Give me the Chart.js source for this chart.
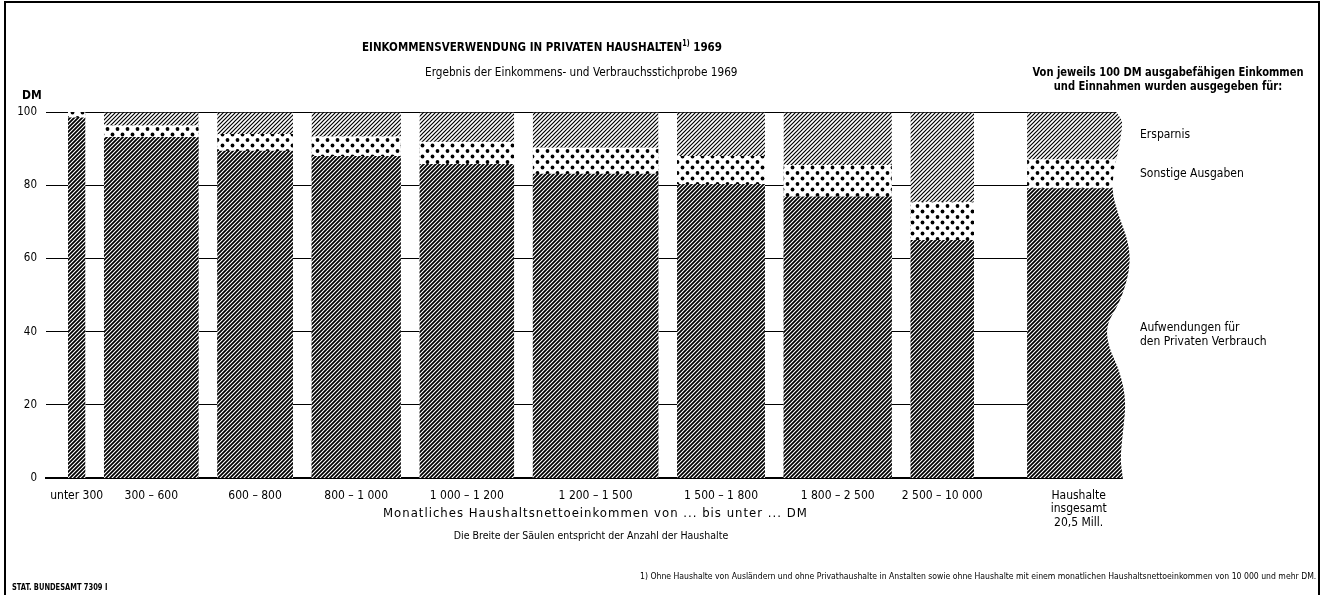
<!DOCTYPE html>
<html>
<head>
<meta charset="utf-8">
<script src="https://cdn.jsdelivr.net/npm/chart.js@4/dist/chart.umd.min.js"></script>
<style>
  body { margin: 0; background: #fff; }
  #wrap { position: relative; width: 1324px; height: 595px; overflow: hidden;
          font-family: 'Liberation Sans Narrow', 'DejaVu Sans Condensed', sans-serif; color: #000; }
  #frame { position: absolute; left: 4px; top: 1px; width: 1312px; height: 620px;
           border-left: 2px solid #000; border-top: 2px solid #000; border-right: 2px solid #000; }
  canvas { position: absolute; left: 0; top: 0; }
  .t { position: absolute; white-space: nowrap; line-height: 1; transform-origin: left top; }
  .c { transform-origin: center top; text-align: center; }
</style>
</head>
<body>
<div id="wrap">
  <div id="frame"></div>
  <canvas id="myChart" width="1324" height="595"></canvas>
  <div class="t" style="left:362px;top:40px;font-size:13px;font-weight:bold;transform:scaleX(0.885);">EINKOMMENSVERWENDUNG IN PRIVATEN HAUSHALTEN<sup style="font-size:8px">1)</sup> 1969</div>
  <div class="t" style="left:425px;top:66px;font-size:12px;transform:scaleX(0.975);">Ergebnis der Einkommens- und Verbrauchsstichprobe 1969</div>
  <div class="t c" style="left:1008px;top:65px;width:320px;font-size:12.5px;font-weight:bold;line-height:14px;transform:scaleX(0.885);">Von jeweils 100 DM ausgabefähigen Einkommen<br>und Einnahmen wurden ausgegeben für:</div>
  <div class="t" style="left:22px;top:89px;font-size:12px;font-weight:bold;">DM</div>
  <div class="t" style="left:1140px;top:128px;font-size:12px;">Ersparnis</div>
  <div class="t" style="left:1140px;top:167px;font-size:12px;">Sonstige Ausgaben</div>
  <div class="t" style="left:1140px;top:320px;font-size:12px;line-height:14px;">Aufwendungen für<br>den Privaten Verbrauch</div>
  <div class="t" style="left:383px;top:506px;font-size:13px;letter-spacing:1.0px;">Monatliches Haushaltsnettoeinkommen von ... bis unter ... DM</div>
  <div class="t c" style="left:441px;top:530px;width:300px;font-size:10.5px;">Die Breite der Säulen entspricht der Anzahl der Haushalte</div>
  <div class="t" style="left:640px;top:571px;font-size:9.5px;transform:scaleX(0.905);">1) Ohne Haushalte von Ausländern und ohne Privathaushalte in Anstalten sowie ohne Haushalte mit einem monatlichen Haushaltsnettoeinkommen von 10 000 und mehr DM.</div>
  <div class="t" style="left:12px;top:583px;font-size:9px;font-weight:bold;transform:scaleX(0.83);">STAT. BUNDESAMT 7309 I</div>
</div>
<script>
// income groups (monthly net household income, DM)
const groups = ['unter 300', '300 – 600', '600 – 800', '800 – 1 000', '1 000 – 1 200',
                '1 200 – 1 500', '1 500 – 1 800', '1 800 – 2 500', '2 500 – 10 000'];
// share of households in each group (%), gives the bar width
const households = [2.3, 12.5, 10.0, 11.8, 12.5, 16.6, 11.6, 14.3, 8.4];
// use of 100 DM income per group
const consumption   = [98.5, 93.2, 89.4, 88.0, 85.8, 83.1, 80.3, 76.9, 65.0];
const otherSpending = [1.5, 3.2, 4.6, 5.4, 6.1, 7.2, 7.7, 8.6, 10.5];
const savings       = [0.0, 3.6, 6.0, 6.6, 8.1, 9.7, 12.0, 14.5, 24.5];
// all households: consumption, other, savings
const totalShares = [79.2, 7.9, 12.9];
const totalLabel = ['Haushalte', 'insgesamt', '20,5 Mill.'];
const yTicks = [0, 20, 40, 60, 80, 100];

const FONT = "'Liberation Sans Narrow', 'DejaVu Sans Condensed', sans-serif";

// horizontal layout in household-% units
const leadGap = 2.9, gap = 2.44, totalGap = 7.0, totalWidth = 14.1;
let pos = leadGap;
const spans = households.map(w => { const s = [pos, pos + w]; pos += w + gap; return s; });
const totalStart = spans[spans.length - 1][1] + totalGap;
const xMax = totalStart + totalWidth;
spans.push([totalStart, xMax]);
const centers = spans.map((s, i) => i < households.length ? (s[0] + s[1]) / 2 : s[0] + 6.8);
const xLabels = [...groups, totalLabel];

const consTop = [...consumption, totalShares[0]];
const otherTop = [...consumption.map((c, i) => c + otherSpending[i]), totalShares[0] + totalShares[1]];
const savTop = [...consumption.map((c, i) => c + otherSpending[i] + savings[i]),
                totalShares[0] + totalShares[1] + totalShares[2]];

function steps(tops) {
  const pts = [];
  tops.forEach((v, i) => {
    pts.push({ x: spans[i][0], y: v }, { x: spans[i][1], y: v });
    if (i < tops.length - 1) pts.push({ x: (spans[i][1] + spans[i + 1][0]) / 2, y: null });
  });
  return pts;
}

function hatch(lw) {
  const c = document.createElement('canvas');
  c.width = 4; c.height = 4;
  const g = c.getContext('2d');
  g.fillStyle = '#fff'; g.fillRect(0, 0, 4, 4);
  g.strokeStyle = '#000'; g.lineWidth = lw;
  g.beginPath();
  g.moveTo(-1, 5); g.lineTo(5, -1);
  g.moveTo(-3, 3); g.lineTo(3, -3);
  g.moveTo(1, 7); g.lineTo(7, 1);
  g.stroke();
  return g.createPattern(c, 'repeat');
}
function dots() {
  const c = document.createElement('canvas');
  c.width = 10; c.height = 11;
  const g = c.getContext('2d');
  g.fillStyle = '#fff'; g.fillRect(0, 0, 10, 11);
  g.fillStyle = '#000';
  g.beginPath(); g.arc(2.5, 2.5, 1.9, 0, Math.PI * 2); g.fill();
  g.beginPath(); g.arc(7.5, 8, 1.9, 0, Math.PI * 2); g.fill();
  return g.createPattern(c, 'repeat');
}

// right edge of the "insgesamt" column is drawn torn/wavy
const waveEdge = [[100, 89], [98, 95], [96, 95], [92, 93], [87, 89], [79, 84], [72, 91],
                  [64, 102], [57, 103], [48, 93], [42, 79], [36, 81], [29, 93], [21, 99],
                  [13, 96], [5, 93], [0, 96]];
const waveTrim = {
  id: 'waveTrim',
  afterDatasetsDraw(chart) {
    const { ctx, scales: { x, y }, chartArea } = chart;
    const left = x.getPixelForValue(totalStart);
    const pts = waveEdge.map(p => [left + p[1], y.getPixelForValue(p[0])]);
    const right = chartArea.right + 6;
    ctx.save();
    ctx.fillStyle = '#fff';
    ctx.beginPath();
    ctx.moveTo(right, pts[0][1] - 3);
    ctx.lineTo(pts[0][0] - 6, pts[0][1] - 3);
    ctx.quadraticCurveTo(pts[0][0], pts[0][1] - 1, pts[0][0], pts[0][1]);
    for (let i = 1; i < pts.length - 1; i++) {
      const mx = (pts[i][0] + pts[i + 1][0]) / 2, my = (pts[i][1] + pts[i + 1][1]) / 2;
      ctx.quadraticCurveTo(pts[i][0], pts[i][1], mx, my);
    }
    const last = pts[pts.length - 1];
    ctx.lineTo(last[0], last[1] + 3);
    ctx.lineTo(right, last[1] + 3);
    ctx.closePath();
    ctx.fill();
    ctx.restore();
  }
};

const layer = (label, tops, bg, border) => ({
  label, data: steps(tops), backgroundColor: bg, fill: 'origin',
  borderColor: '#000', borderWidth: border, pointRadius: 0, tension: 0, spanGaps: false
});

const ctx = document.getElementById('myChart').getContext('2d');
const chart = new Chart(ctx, {
  type: 'line',
  data: {
    datasets: [
      layer('Aufwendungen für den Privaten Verbrauch', consTop, hatch(1.75), 0),
      layer('Sonstige Ausgaben', otherTop, dots(), 0),
      layer('Ersparnis', savTop, hatch(1.2), 1.5)
    ]
  },
  options: {
    responsive: false,
    animation: false,
    devicePixelRatio: 1,
    layout: { padding: { top: 112, right: 190, left: 0, bottom: 0 } },
    plugins: { legend: { display: false }, tooltip: { enabled: false } },
    scales: {
      x: {
        type: 'linear', min: 0, max: xMax,
        afterFit: s => { s.height = 117; },
        afterBuildTicks: s => { s.ticks = centers.map(v => ({ value: v })); },
        grid: { display: false },
        border: { display: true, color: '#000', width: 2 },
        ticks: {
          autoSkip: false, maxRotation: 0, padding: 3, color: '#000',
          font: { family: FONT, size: 12, lineHeight: 1.12 },
          callback: (v, i) => xLabels[i]
        }
      },
      y: {
        min: 0, max: 100,
        afterFit: s => { s.width = 46; },
        afterBuildTicks: s => { s.ticks = yTicks.map(v => ({ value: v })); },
        grid: { color: '#000', lineWidth: 1, drawTicks: false },
        border: { display: false },
        ticks: { padding: 9, color: '#000', font: { family: FONT, size: 11.5 } }
      }
    }
  },
  plugins: [waveTrim]
});
</script>
</body>
</html>
